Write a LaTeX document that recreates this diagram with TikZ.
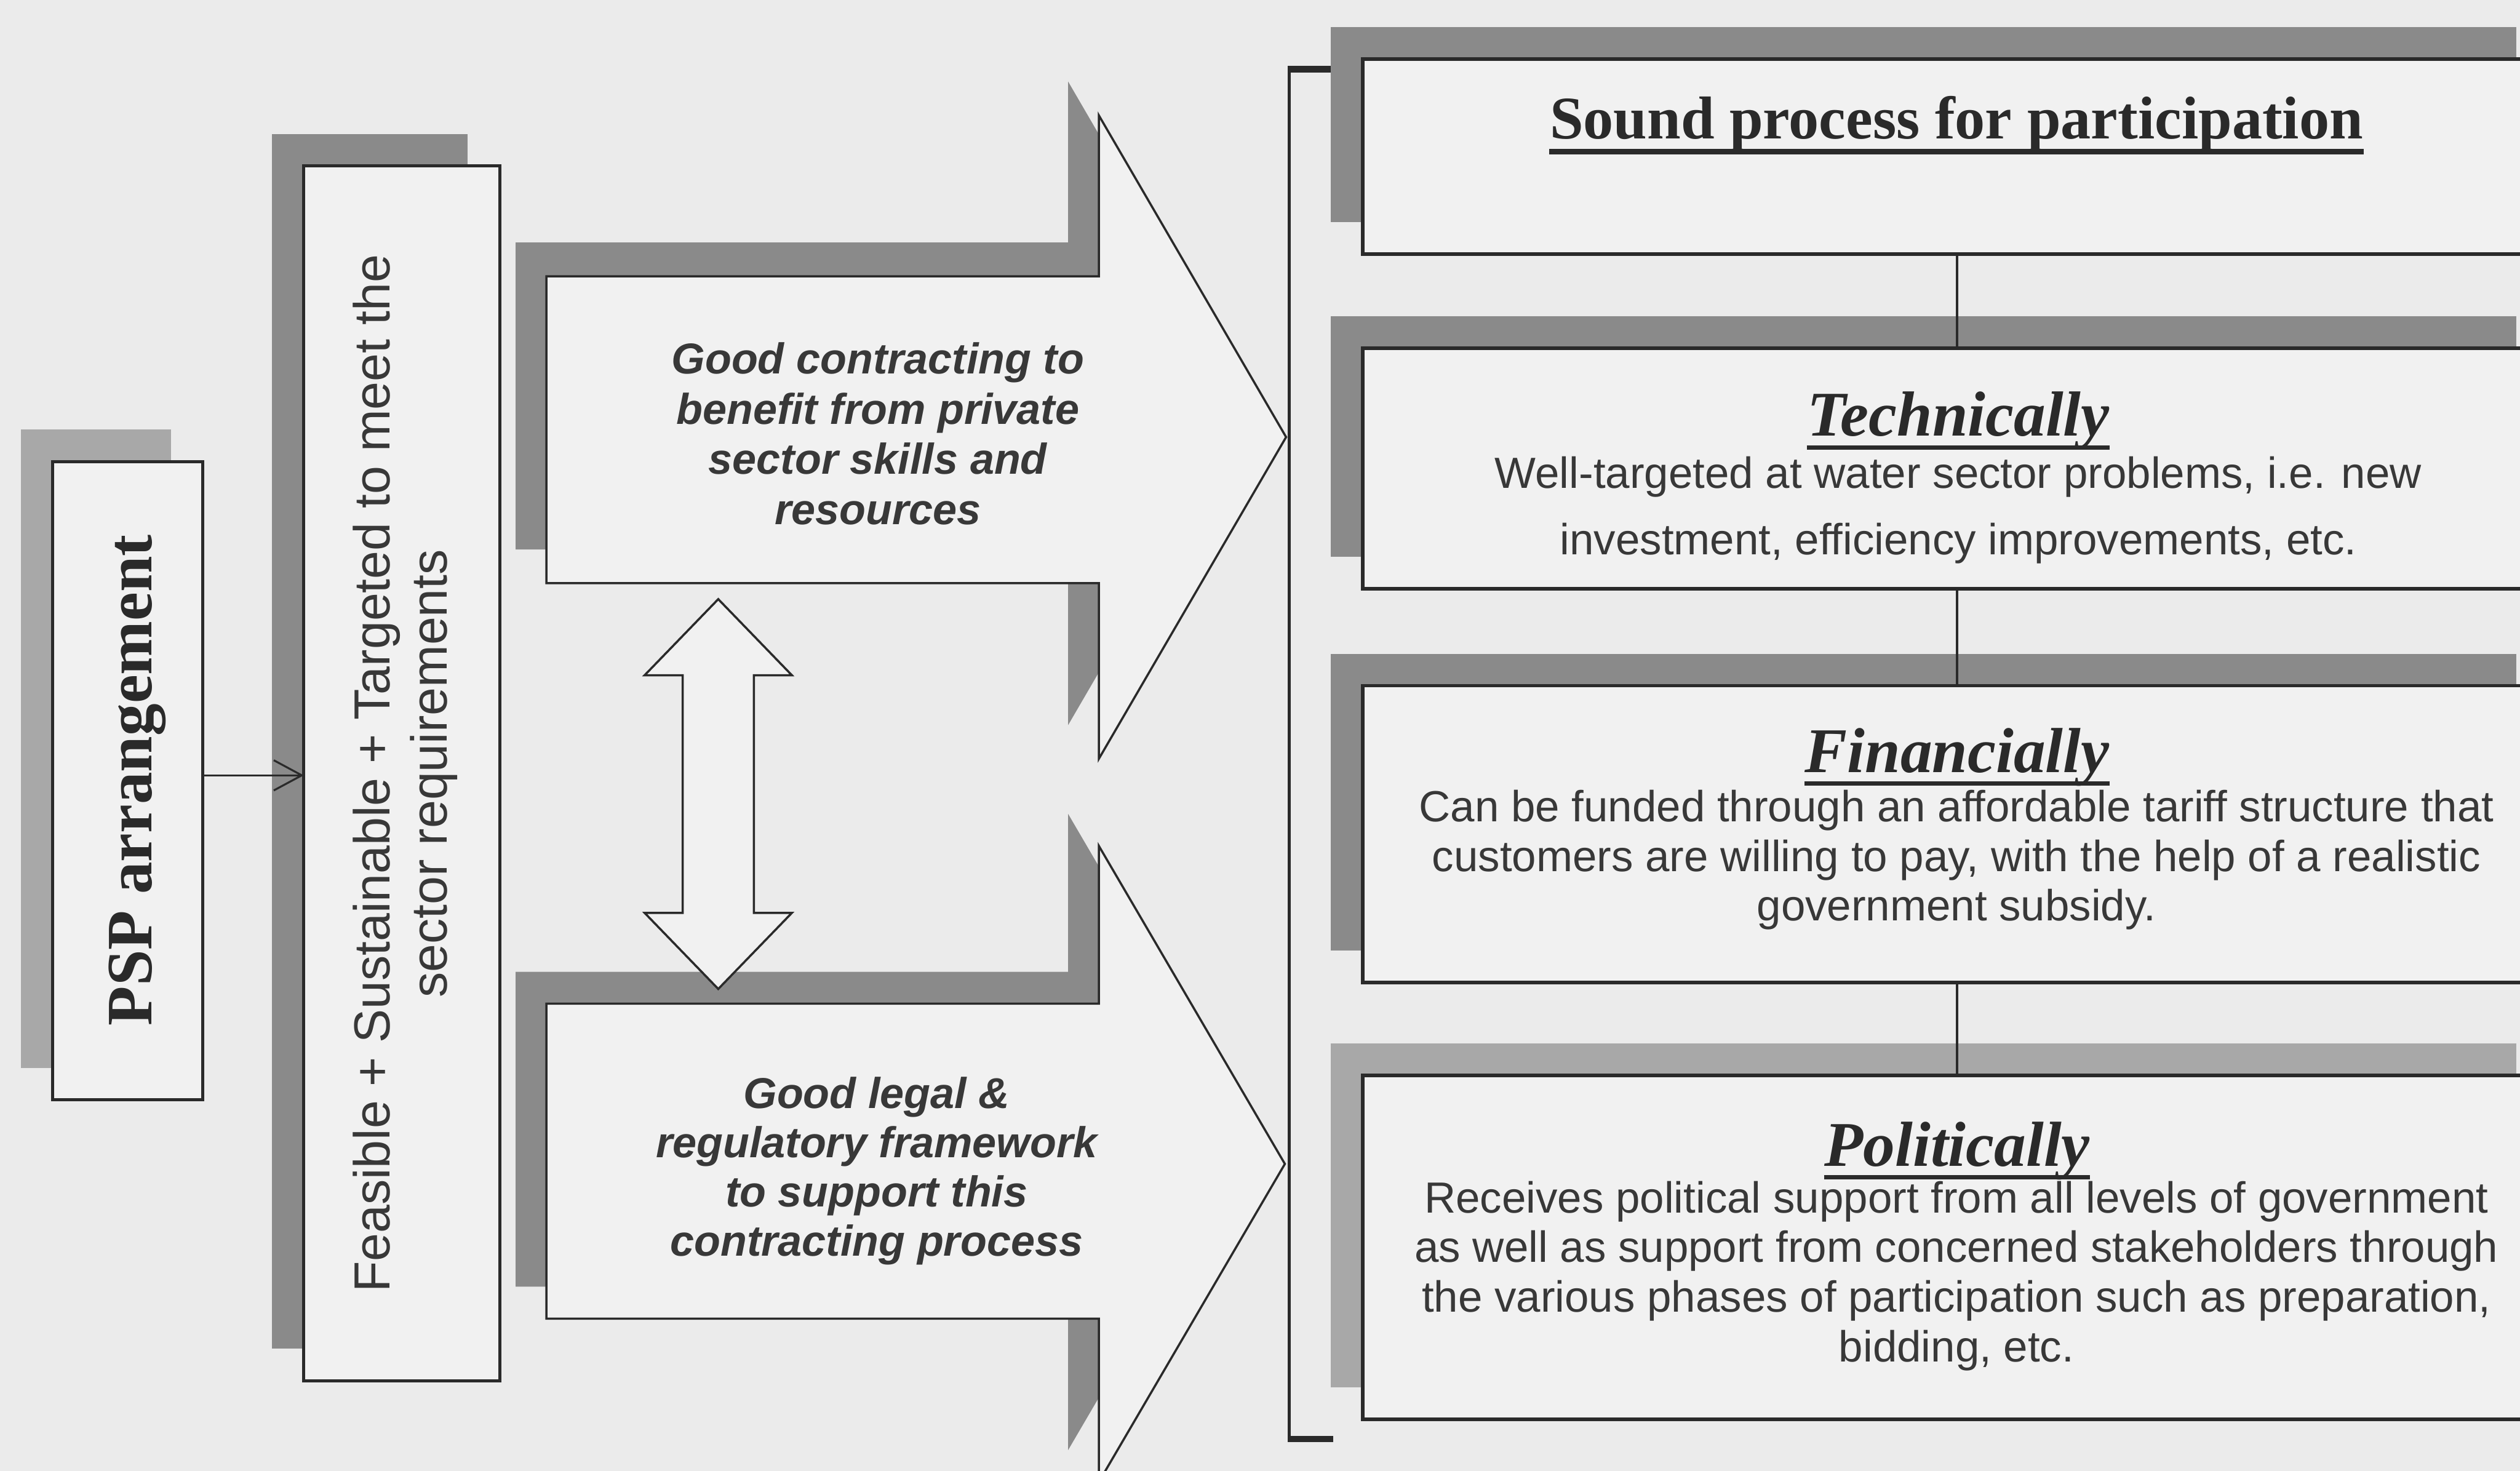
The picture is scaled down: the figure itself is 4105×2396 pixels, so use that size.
\documentclass[tikz,border=0pt]{standalone}
\usepackage{fontspec}
\setmainfont{Liberation Serif}
\setsansfont{Liberation Sans}
\usetikzlibrary{arrows.meta,shadows}

\definecolor{paper}{HTML}{EBEBEB}
\definecolor{boxfill}{HTML}{F1F1F1}
\definecolor{ink}{HTML}{2A2A2A}
\definecolor{shadowgray}{HTML}{8A8A8A}
\definecolor{shadowlight}{HTML}{A8A8A8}
\definecolor{textgray}{HTML}{383838}

\begin{document}
\begin{tikzpicture}[x=0.01cm, y=-0.01cm,
  box/.style={draw=ink, line width=1.4pt, fill=boxfill, inner sep=0pt, outer sep=0pt},
  shadowed/.style={general shadow={fill=#1, shadow xshift=-0.52cm, shadow yshift=0.52cm}},
  blockarrow/.style={draw=ink, line width=1.0pt, fill=boxfill, line join=miter},
  link/.style={draw=ink, line width=0.9pt},
  pspfont/.style={font=\fontsize{30pt}{36pt}\selectfont\bfseries, text=ink, inner sep=0pt},
  feasfont/.style={font=\sffamily\fontsize{23.5pt}{26.7pt}\selectfont, text=textgray, align=center, inner sep=0pt},
  arrowtext/.style={font=\sffamily\bfseries\itshape\fontsize{20pt}{23.2pt}\selectfont, text=textgray, align=center, inner sep=0pt},
  title/.style={font=\bfseries\itshape\fontsize{29.5pt}{34pt}\selectfont, text=ink, inner sep=0pt},
  headline/.style={font=\bfseries\fontsize{28pt}{32pt}\selectfont, text=ink, inner sep=0pt},
  body/.style={font=\sffamily\fontsize{20.2pt}{23pt}\selectfont, text=textgray, align=center, inner sep=0pt},
  rule/.style={draw=ink, line width=2pt}
]
% page
\fill[paper] (0,0) rectangle (4105,2396);
\useasboundingbox (0,0) rectangle (4105,2396);
\clip (0,0) rectangle (4105,2396);

% left column boxes
\node[box, shadowed=shadowlight, anchor=north west, minimum width=2.44cm, minimum height=10.39cm] (psp) at (86,752) {};
\node[pspfont, rotate=90] (psptext) at (224,1271) {PSP arrangement};

\node[box, shadowed=shadowgray, anchor=north west, minimum width=3.19cm, minimum height=19.78cm] (feas) at (495,270) {};
\node[feasfont, rotate=90] (feastext) at (660,1260) {Feasible + Sustainable + Targeted to meet the\\sector requirements};

\draw[link, -{Straight Barb[length=13pt, width=14pt, line width=0.9pt]}] (psp.east |- 0,1263) -- (feas.west |- 0,1263);

% block arrows with their shadows
\fill[shadowgray, shift={(-50,-55)}] (890,450) -- (1790,450) -- (1790,188) -- (2095,712) -- (1790,1236) -- (1790,950) -- (890,950) -- cycle;
\path[blockarrow] (890,450) -- (1790,450) -- (1790,188) -- (2095,712) -- (1790,1236) -- (1790,950) -- (890,950) -- cycle;
\node[arrowtext, anchor=base] (contracting) at (1430,854) {Good contracting to\\benefit from private\\sector skills and\\resources};

\fill[shadowgray, shift={(-50,-52)}] (890,1635) -- (1790,1635) -- (1790,1378) -- (2093,1896) -- (1790,2414) -- (1790,2148) -- (890,2148) -- cycle;
\path[blockarrow] (890,1635) -- (1790,1635) -- (1790,1378) -- (2093,1896) -- (1790,2414) -- (1790,2148) -- (890,2148) -- cycle;
\node[arrowtext, anchor=base, font=\sffamily\bfseries\itshape\fontsize{20pt}{22.8pt}\selectfont] (legal) at (1428,2046) {Good legal \&\\regulatory framework\\to support this\\contracting process};

% hollow double arrow between the two
\path[blockarrow] (1170,976) -- (1290,1100) -- (1228,1100) -- (1228,1487) -- (1290,1487) -- (1170,1611) -- (1050,1487) -- (1112,1487) -- (1112,1100) -- (1050,1100) -- cycle;

% bracket collecting the arrows
\coordinate (brtop) at (2100,113);
\coordinate (brbot) at (2100,2344);
\draw[draw=ink, line width=1.5pt] (brtop) -- (brbot);
\draw[draw=ink, line width=3pt] ([xshift=-0.02cm]brtop) -- ++(74,0);
\draw[draw=ink, line width=3pt] ([xshift=-0.02cm]brbot) -- ++(74,0);

% right column boxes
\node[box, line width=1.6pt, shadowed=shadowgray, anchor=north west, minimum width=19.3cm, minimum height=3.18cm] (b1) at (2220,96) {};
\node[box, line width=1.6pt, shadowed=shadowgray, anchor=north west, minimum width=19.3cm, minimum height=3.92cm] (b2) at (2220,567) {};
\node[box, line width=1.6pt, shadowed=shadowgray, anchor=north west, minimum width=19.3cm, minimum height=4.83cm] (b3) at (2220,1117) {};
\node[box, line width=1.6pt, shadowed=shadowlight, anchor=north west, minimum width=19.3cm, minimum height=5.6cm] (b4) at (2220,1752) {};

\draw[link] (b1.south -| 3188,0) -- (b2.north -| 3188,0);
\draw[link] (b2.south -| 3188,0) -- (b3.north -| 3188,0);
\draw[link] (b3.south -| 3188,0) -- (b4.north -| 3188,0);

% headings and descriptions
\node[headline, anchor=base] (h1) at (3187,226) {Sound process for participation};
\draw[rule, line width=2.6pt] ([yshift=-0.21cm]h1.base west) -- ([yshift=-0.21cm]h1.base east);

\node[title, anchor=base] (h2) at (3190,710) {Technically};
\draw[rule] ([yshift=-0.19cm]h2.base west) -- ([yshift=-0.19cm]h2.base east);
\node[body, anchor=base, font=\sffamily\fontsize{20.2pt}{30.7pt}\selectfont] (t2) at (3190,903) {Well-targeted at water sector problems, i.e. new\\investment, efficiency improvements, etc.};

\node[title, anchor=base] (h3) at (3188,1258) {Financially};
\draw[rule] ([yshift=-0.18cm]h3.base west) -- ([yshift=-0.18cm]h3.base east);
\node[body, anchor=base] (t3) at (3187,1500) {Can be funded through an affordable tariff structure that\\customers are willing to pay, with the help of a realistic\\government subsidy.};

\node[title, anchor=base] (h4) at (3188,1900) {Politically};
\draw[rule] ([yshift=-0.18cm]h4.base west) -- ([yshift=-0.18cm]h4.base east);
\node[body, anchor=base] (t4) at (3187,2218) {Receives political support from all levels of government\\as well as support from concerned stakeholders through\\the various phases of participation such as preparation,\\bidding, etc.};
\end{tikzpicture}
\end{document}
